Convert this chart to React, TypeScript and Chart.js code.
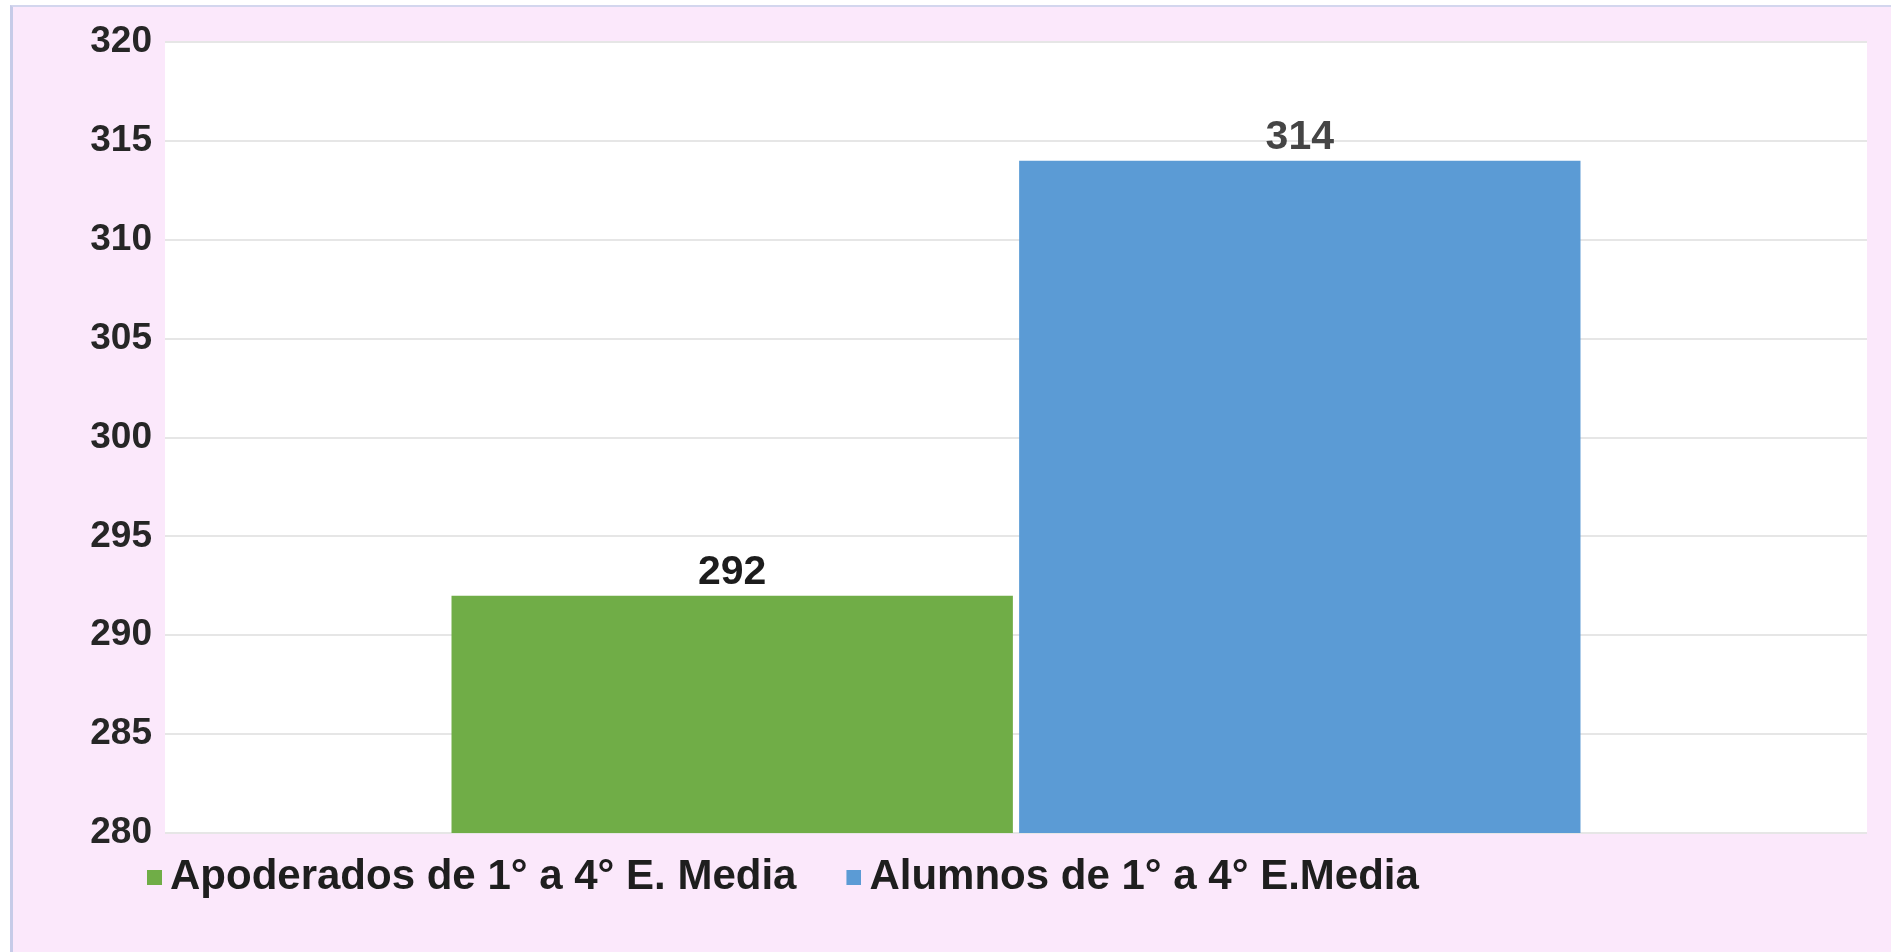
import React, { useEffect, useRef } from 'react';
import { Chart, registerables } from 'chart.js';

Chart.register(...registerables);

// ---- Data ----
const categories = [''];
const seriesNames = ['Apoderados de 1° a 4° E. Media', 'Alumnos de 1° a 4° E.Media'];
const apoderadosValues = [292];
const alumnosValues = [314];
const seriesColors = ['#70ad47', '#5b9bd5'];
const valueLabelColors = ['#1c1c1c', '#454545'];
const yMin = 280;
const yMax = 320;
const yStep = 5;

const FONT = '"Liberation Sans", Arial, sans-serif';

function makeSwatch(color: string) {
  const c = document.createElement('canvas');
  c.width = 55;
  c.height = 15;
  const g = c.getContext('2d')!;
  g.fillStyle = color;
  g.fillRect(40, 0, 15, 15);
  return c;
}

const plotBackground = {
  id: 'plotBackground',
  beforeDraw(chart: any) {
    const { ctx, chartArea } = chart;
    ctx.save();
    ctx.fillStyle = '#ffffff';
    ctx.fillRect(chartArea.left, chartArea.top, chartArea.right - chartArea.left, chartArea.bottom - chartArea.top);
    ctx.restore();
  },
};

// move the legend block to the right so it starts under the tick labels
const legendShift = {
  id: 'legendShift',
  afterLayout(chart: any) {
    if (chart.legend) {
      chart.legend.left += 77;
    }
  },
};

const valueLabels = {
  id: 'valueLabels',
  afterDatasetsDraw(chart: any) {
    const ctx = chart.ctx;
    chart.data.datasets.forEach((ds: any, i: number) => {
      const meta = chart.getDatasetMeta(i);
      meta.data.forEach((bar: any, j: number) => {
        ctx.save();
        ctx.font = `bold 41px ${FONT}`;
        ctx.fillStyle = valueLabelColors[i];
        ctx.textAlign = 'center';
        ctx.textBaseline = 'alphabetic';
        ctx.fillText(String(ds.data[j]), bar.x, bar.y - 12);
        ctx.restore();
      });
    });
  },
};

export default function App() {
  const ref = useRef<HTMLCanvasElement>(null);

  useEffect(() => {
    if (!ref.current) return;
    const swatches = seriesColors.map(makeSwatch);
    const chart = new Chart(ref.current, {
      type: 'bar',
      data: {
        labels: categories,
        datasets: [
          {
            label: seriesNames[0],
            data: apoderadosValues,
            backgroundColor: seriesColors[0],
            categoryPercentage: 0.667,
            barPercentage: 0.989,
          },
          {
            label: seriesNames[1],
            data: alumnosValues,
            backgroundColor: seriesColors[1],
            categoryPercentage: 0.667,
            barPercentage: 0.989,
          },
        ],
      },
      options: {
        responsive: false,
        animation: false,
        layout: { padding: { left: 20, top: 42, right: 24, bottom: 44 } },
        scales: {
          x: { display: false },
          y: {
            min: yMin,
            max: yMax,
            ticks: {
              stepSize: yStep,
              padding: 13,
              color: '#262626',
              font: { family: FONT, size: 37, weight: 'bold' },
            },
            grid: { color: '#e6e6e6', lineWidth: 2, drawTicks: false },
            border: { display: false },
            afterFit: (s: any) => {
              s.width = 145;
            },
          },
        },
        plugins: {
          tooltip: { enabled: false },
          legend: {
            position: 'bottom',
            align: 'start',
            labels: {
              usePointStyle: true,
              boxWidth: 29,
              boxHeight: 15,
              padding: 23,
              color: '#1e1e1e',
              font: { family: FONT, size: 42, weight: 'bold' },
              generateLabels: (c: any) => {
                const items = (Chart as any).defaults.plugins.legend.labels.generateLabels(c);
                return items.map((it: any, i: number) => ({ ...it, pointStyle: swatches[i] }));
              },
            },
          },
        },
      },
      plugins: [plotBackground, legendShift, valueLabels],
    });
    return () => chart.destroy();
  }, []);

  return (
    <div style={{ position: 'fixed', left: 0, top: 0, width: 1891, height: 952, background: '#ffffff', overflow: 'hidden' }}>
      <div
        style={{
          position: 'absolute',
          left: 10,
          top: 5,
          right: 0,
          bottom: 0,
          background: '#fbe8fb',
          borderLeft: '3px solid #c6cbe8',
          borderTop: '2px solid #d3d6ee',
        }}
      />
      <canvas ref={ref} width={1891} height={952} style={{ position: 'absolute', left: 0, top: 0, display: 'block' }} />
    </div>
  );
}
